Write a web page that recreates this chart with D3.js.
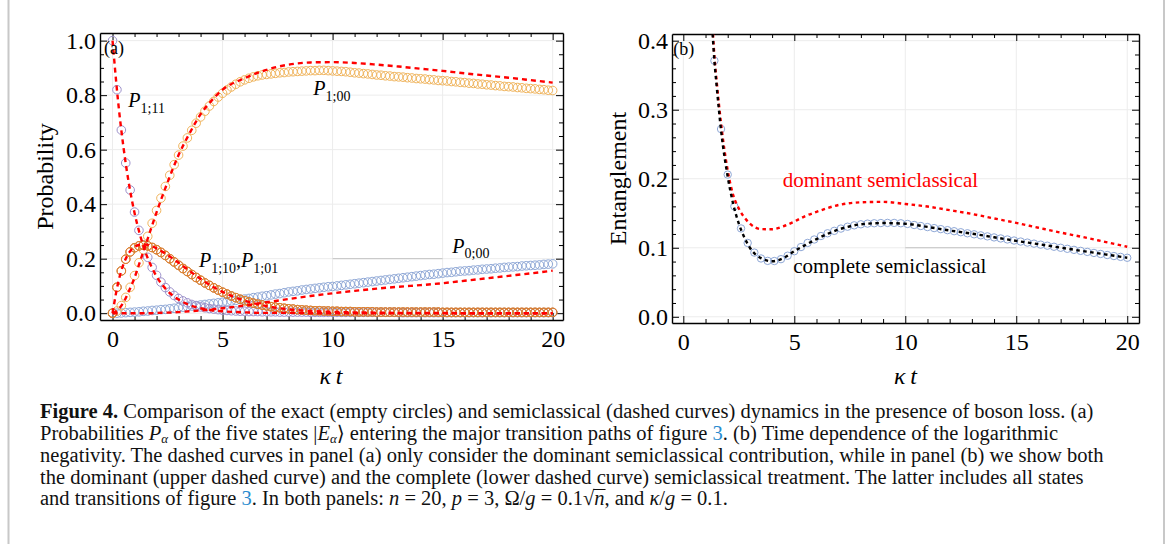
<!DOCTYPE html>
<html lang="en">
<head>
<meta charset="UTF-8">
<title>Figure 4</title>
<script src="https://d3js.org/d3.v7.min.js"></script>
<style>
  body { margin: 0; background: #fff; }
  svg text { font-family: "Liberation Serif", "DejaVu Serif", serif; }
</style>
</head>
<body>
<svg id="fig" width="1170" height="544"></svg>
<script>
// ---------- panel (a): exact probabilities, sampled every 0.2 ----------
var tA = [0,0.2,0.4,0.6,0.8,1,1.2,1.4,1.6,1.8,
    2,2.2,2.4,2.6,2.8,3,3.2,3.4,3.6,3.8,
    4,4.2,4.4,4.6,4.8,5,5.2,5.4,5.6,5.8,
    6,6.2,6.4,6.6,6.8,7,7.2,7.4,7.6,7.8,
    8,8.2,8.4,8.6,8.8,9,9.2,9.4,9.6,9.8,
    10,10.2,10.4,10.6,10.8,11,11.2,11.4,11.6,11.8,
    12,12.2,12.4,12.6,12.8,13,13.2,13.4,13.6,13.8,
    14,14.2,14.4,14.6,14.8,15,15.2,15.4,15.6,15.8,
    16,16.2,16.4,16.6,16.8,17,17.2,17.4,17.6,17.8,
    18,18.2,18.4,18.6,18.8,19,19.2,19.4,19.6,19.8,20];

var p111 = [1.000,0.820,0.672,0.551,0.452,0.371,0.304,0.250,0.205,0.168,
    0.139,0.114,0.094,0.078,0.065,0.054,0.045,0.038,0.032,0.027,
    0.023,0.020,0.017,0.015,0.013,0.011,0.010,0.009,0.008,0.007,
    0.007,0.006,0.006,0.006,0.005,0.005,0.005,0.005,0.004,0.004,
    0.004,0.004,0.004,0.004,0.004,0.003,0.003,0.003,0.003,0.003,
    0.003,0.003,0.003,0.003,0.003,0.003,0.003,0.003,0.003,0.003,
    0.003,0.003,0.003,0.003,0.003,0.002,0.002,0.002,0.002,0.002,
    0.002,0.002,0.002,0.002,0.002,0.002,0.002,0.002,0.002,0.002,
    0.002,0.002,0.002,0.002,0.002,0.002,0.002,0.002,0.002,0.002,
    0.002,0.002,0.002,0.002,0.002,0.002,0.002,0.002,0.002,0.002,0.002];

var p110 = [0.000,0.095,0.155,0.198,0.225,0.240,0.247,0.249,0.247,0.241,
    0.233,0.223,0.212,0.200,0.188,0.176,0.164,0.153,0.142,0.131,
    0.121,0.111,0.102,0.093,0.085,0.077,0.070,0.063,0.057,0.051,
    0.046,0.041,0.037,0.033,0.030,0.027,0.024,0.022,0.020,0.018,
    0.016,0.015,0.013,0.012,0.011,0.010,0.009,0.009,0.008,0.008,
    0.007,0.007,0.006,0.006,0.006,0.005,0.005,0.005,0.005,0.005,
    0.004,0.004,0.004,0.004,0.004,0.004,0.004,0.004,0.004,0.004,
    0.004,0.004,0.004,0.004,0.004,0.003,0.003,0.003,0.003,0.003,
    0.003,0.003,0.003,0.003,0.003,0.003,0.003,0.003,0.003,0.003,
    0.003,0.003,0.003,0.003,0.003,0.003,0.003,0.003,0.003,0.003,0.003];

var p101 = p110; // P_{1;01} coincides with P_{1;10}

var p100 = [0.000,0.008,0.028,0.058,0.095,0.138,0.185,0.233,0.282,0.330,
    0.377,0.422,0.465,0.506,0.545,0.580,0.613,0.643,0.671,0.697,
    0.720,0.741,0.760,0.777,0.793,0.807,0.819,0.830,0.840,0.849,
    0.856,0.862,0.867,0.871,0.874,0.876,0.878,0.880,0.882,0.883,
    0.885,0.886,0.887,0.888,0.889,0.890,0.890,0.891,0.891,0.890,
    0.889,0.888,0.887,0.886,0.884,0.882,0.881,0.879,0.878,0.876,
    0.874,0.873,0.871,0.870,0.868,0.867,0.866,0.864,0.863,0.861,
    0.860,0.859,0.857,0.856,0.854,0.853,0.852,0.850,0.849,0.847,
    0.846,0.844,0.843,0.841,0.840,0.838,0.837,0.835,0.834,0.832,
    0.831,0.830,0.828,0.827,0.825,0.824,0.823,0.821,0.820,0.818,0.817];

var p000 = [0.000,0.000,0.001,0.002,0.003,0.004,0.005,0.007,0.008,0.010,
    0.011,0.013,0.014,0.016,0.018,0.020,0.022,0.024,0.026,0.028,
    0.030,0.032,0.034,0.036,0.038,0.040,0.042,0.045,0.047,0.050,
    0.052,0.054,0.057,0.059,0.062,0.064,0.067,0.070,0.072,0.075,
    0.078,0.080,0.082,0.085,0.087,0.089,0.091,0.093,0.095,0.097,
    0.098,0.100,0.102,0.104,0.106,0.108,0.110,0.112,0.114,0.116,
    0.118,0.120,0.122,0.124,0.126,0.128,0.130,0.132,0.134,0.136,
    0.138,0.140,0.142,0.143,0.145,0.147,0.149,0.150,0.152,0.154,
    0.155,0.156,0.158,0.159,0.161,0.162,0.163,0.165,0.166,0.168,
    0.169,0.170,0.171,0.173,0.174,0.175,0.176,0.177,0.179,0.180,0.181];

// ---------- panel (a): dominant semiclassical (dashed) ----------
var tS = [0,0.25,0.5,0.75,1,1.25,1.5,1.75,2,2.5,3,3.5,4,4.5,5,6,7,8,9,10,11,12,13,14,15,16,17,18,19,20];
var s111 = [1,0.779,0.607,0.472,0.368,0.287,0.223,0.174,0.135,0.082,0.050,0.030,0.018,0.011,0.007,0.003,0.001,0.001,0,0,0,0,0,0,0,0,0,0,0,0];
var s110 = [0,0.110,0.180,0.222,0.243,0.251,0.252,0.247,0.238,0.213,0.185,0.155,0.126,0.100,0.078,0.046,0.026,0.014,0.008,0.005,0.003,0.002,0.001,0.001,0.001,0,0,0,0,0];
var s100 = [0,0.012,0.040,0.082,0.130,0.190,0.250,0.310,0.370,0.480,0.580,0.660,0.730,0.780,0.820,0.862,0.893,0.912,0.920,0.921,0.918,0.912,0.905,0.897,0.889,0.880,0.872,0.864,0.855,0.846];
var s000 = [0,0,0,0,0,0,0,0,0.001,0.002,0.004,0.007,0.010,0.014,0.018,0.028,0.040,0.052,0.063,0.073,0.082,0.090,0.097,0.103,0.110,0.119,0.128,0.137,0.146,0.156];

// ---------- panel (b): entanglement ----------
var tE = [1.4,1.7,2.0,2.3,2.6,2.9,3.2,3.5,3.8,4.1,
    4.4,4.7,5.0,5.3,5.6,5.9,6.2,6.5,6.8,7.1,
    7.4,7.7,8.0,8.3,8.6,8.9,9.2,9.5,9.8,10.1,
    10.4,10.7,11.0,11.3,11.6,11.9,12.2,12.5,12.8,13.1,
    13.4,13.7,14.0,14.3,14.6,14.9,15.2,15.5,15.8,16.1,
    16.4,16.7,17.0,17.3,17.6,17.9,18.2,18.5,18.8,19.1,
    19.4,19.7,20.0];
var eExact = [0.371,0.272,0.206,0.160,0.128,0.107,0.093,0.0845,0.081,0.0808,
    0.0835,0.0885,0.095,0.101,0.107,0.112,0.117,0.121,0.1245,0.1278,
    0.1305,0.1325,0.134,0.135,0.1355,0.1358,0.136,0.136,0.1355,0.1345,
    0.133,0.1315,0.130,0.1285,0.127,0.1255,0.124,0.1225,0.121,0.1195,
    0.118,0.1165,0.115,0.1135,0.112,0.1105,0.109,0.1075,0.106,0.1045,
    0.103,0.1015,0.100,0.0985,0.097,0.0955,0.094,0.0925,0.091,0.0895,
    0.088,0.0868,0.0855];

var tC = [1.3,1.4,1.5,1.7,2,2.25,2.5,2.75,3,3.5,4,4.5,5,5.5,6,7,8,9,10,11,12,13,14,15,16,17,18,19,20];
var eComplete = [0.42,0.371,0.335,0.27,0.203,0.163,0.135,0.115,0.100,0.085,0.0805,0.085,0.095,0.104,0.1125,0.1265,0.134,0.1358,0.1348,0.1302,0.1250,0.1205,0.1152,0.1100,0.1052,0.1002,0.0952,0.0905,0.0855];
var eDominant = [0.43,0.378,0.342,0.28,0.212,0.176,0.157,0.144,0.135,0.127,0.1268,0.131,0.138,0.146,0.152,0.162,0.1658,0.1665,0.1635,0.1597,0.1545,0.149,0.1425,0.136,0.129,0.122,0.1155,0.1085,0.1015];

// ticks
var xMajor = [0,5,10,15,20];
var xMinor = [1,2,3,4,6,7,8,9,11,12,13,14,16,17,18,19];
var yMajorA = [0,0.2,0.4,0.6,0.8,1.0];
var yMinorA = [0.05,0.1,0.15,0.25,0.3,0.35,0.45,0.5,0.55,0.65,0.7,0.75,0.85,0.9,0.95];
var yMajorB = [0,0.1,0.2,0.3,0.4];
var yMinorB = [0.02,0.04,0.06,0.08,0.12,0.14,0.16,0.18,0.22,0.24,0.26,0.28,0.32,0.34,0.36,0.38];

var svg = d3.select("#fig");
svg.append("rect").attr("width", 1170).attr("height", 544).attr("fill", "#fff");

// page side borders
svg.append("line").attr("x1", 8.5).attr("x2", 8.5).attr("y1", 0).attr("y2", 544)
    .attr("stroke", "#c8c8c8").attr("stroke-width", 2);
svg.append("line").attr("x1", 1164).attr("x2", 1164).attr("y1", 0).attr("y2", 544)
    .attr("stroke", "#c8c8c8").attr("stroke-width", 2);

var xA = d3.scaleLinear().domain([-0.57, 20.47]).range([100, 563]);
var yA = d3.scaleLinear().domain([-0.025, 1.028]).range([320, 33]);
var xB = d3.scaleLinear().domain([-0.51, 20.53]).range([672, 1139]);
var yB = d3.scaleLinear().domain([-0.009, 0.4097]).range([323, 34]);

function styleAxis(g) {
    g.attr("font-family", "Liberation Serif, serif").attr("font-size", 24);
    g.selectAll("text").attr("fill", "#000");
    g.selectAll("line").attr("stroke", "#000");
    g.select(".domain").attr("stroke", "#000").attr("stroke-width", 1.4);
}

function frame(id, x, y, yMajor, yMinor, yFmt, mark) {
    var g = svg.append("g").attr("id", id);
    var x0 = x.range()[0], x1 = x.range()[1], yb = y.range()[0], yt = y.range()[1];

    // grid
    g.append("g").selectAll("line").data(xMajor).join("line")
        .attr("x1", d => x(d)).attr("x2", d => x(d)).attr("y1", yb).attr("y2", yt)
        .attr("stroke", "#ececec");
    g.append("g").selectAll("line").data(yMajor).join("line")
        .attr("x1", x0).attr("x2", x1).attr("y1", d => y(d)).attr("y2", d => y(d))
        .attr("stroke", "#ececec");
    g.append("line").attr("x1", x(mark[0])).attr("x2", x(mark[1]))
        .attr("y1", y(mark[2])).attr("y2", y(mark[2])).attr("stroke", "#c2c2c2");

    // bottom
    g.append("g").attr("transform", "translate(0," + yb + ")")
        .call(d3.axisBottom(x).tickValues(xMajor).tickSize(-7).tickSizeOuter(0)
            .tickPadding(10).tickFormat(d3.format("d"))).call(styleAxis);
    g.append("g").attr("transform", "translate(0," + yb + ")")
        .call(d3.axisBottom(x).tickValues(xMinor).tickSize(-4).tickFormat(""))
        .call(styleAxis).select(".domain").remove();
    // top
    g.append("g").attr("transform", "translate(0," + yt + ")")
        .call(d3.axisTop(x).tickValues(xMajor).tickSize(-7).tickSizeOuter(0).tickFormat(""))
        .call(styleAxis);
    g.append("g").attr("transform", "translate(0," + yt + ")")
        .call(d3.axisTop(x).tickValues(xMinor).tickSize(-4).tickFormat(""))
        .call(styleAxis).select(".domain").remove();
    // left
    g.append("g").attr("transform", "translate(" + x0 + ",0)")
        .call(d3.axisLeft(y).tickValues(yMajor).tickSize(-7).tickSizeOuter(0)
            .tickPadding(4).tickFormat(yFmt)).call(styleAxis);
    g.append("g").attr("transform", "translate(" + x0 + ",0)")
        .call(d3.axisLeft(y).tickValues(yMinor).tickSize(-4).tickFormat(""))
        .call(styleAxis).select(".domain").remove();
    // right
    g.append("g").attr("transform", "translate(" + x1 + ",0)")
        .call(d3.axisRight(y).tickValues(yMajor).tickSize(-7).tickSizeOuter(0).tickFormat(""))
        .call(styleAxis);
    g.append("g").attr("transform", "translate(" + x1 + ",0)")
        .call(d3.axisRight(y).tickValues(yMinor).tickSize(-4).tickFormat(""))
        .call(styleAxis).select(".domain").remove();

    svg.append("clipPath").attr("id", id + "-clip").append("rect")
        .attr("x", x0).attr("y", yt).attr("width", x1 - x0).attr("height", yb - yt);
    return svg.append("g").attr("clip-path", "url(#" + id + "-clip)");
}

function circles(g, x, y, ts, vs, color, r) {
    g.append("g").selectAll("circle").data(ts.map((t, i) => [t, vs[i]])).join("circle")
        .attr("cx", d => x(d[0])).attr("cy", d => y(d[1])).attr("r", r)
        .attr("fill", "none").attr("stroke", color).attr("stroke-width", 1);
}

function dashed(g, x, y, ts, vs, color, dash) {
    var line = d3.line().x(d => x(d[0])).y(d => y(d[1])).curve(d3.curveMonotoneX);
    g.append("path").datum(ts.map((t, i) => [t, vs[i]])).attr("d", line)
        .attr("fill", "none").attr("stroke", color).attr("stroke-width", 2.4)
        .attr("stroke-dasharray", dash);
}

// ---------- panel (a) ----------
var fmt1 = d3.format(".1f");
var gA = frame("pa", xA, yA, yMajorA, yMinorA, fmt1, [10, 15, 0.2]);
circles(gA, xA, yA, tA, p000, "#8ea7d6", 4.3);
circles(gA, xA, yA, tA, p100, "#f0b45c", 4.3);
circles(gA, xA, yA, tA, p111, "#9d92cb", 4.3);
circles(gA, xA, yA, tA, p101, "#c4682c", 4.3);
circles(gA, xA, yA, tA, p110, "#e0842f", 4.3);
[s000, s100, s110, s111].forEach(function (s) { dashed(gA, xA, yA, tS, s, "#ff0000", "5,4"); });

// ---------- panel (b) ----------
var gB = frame("pb", xB, yB, yMajorB, yMinorB, fmt1, [10, 15, 0.1]);
circles(gB, xB, yB, tE, eExact, "#8ea7d6", 3.7);
dashed(gB, xB, yB, tC, eDominant, "#ff0000", "3.5,3.5");
dashed(gB, xB, yB, tC, eComplete, "#000000", "3.5,3.5");

// ---------- labels ----------
function plabel(x, y, parts) {
    var t = svg.append("text").attr("x", x).attr("y", y).attr("fill", "#000");
    parts.forEach(function (p, i) {
        if (p[0] === ",") {
            t.append("tspan").attr("dy", -5.5).attr("font-size", 20).text(",");
            return;
        }
        t.append("tspan").attr("font-style", "italic").attr("font-size", 20)
            .attr("dy", i > 0 && parts[i - 1][0] !== "," ? -5.5 : 0).text(p[0]);
        t.append("tspan").attr("font-size", 14).attr("dy", 5.5).text(p[1]);
    });
}
plabel(128.3, 107.3, [["P", "1;11"]]);
plabel(313.3, 95, [["P", "1;00"]]);
plabel(199, 267.3, [["P", "1;10"], [","], ["P", "1;01"]]);
plabel(452.3, 252.7, [["P", "0;00"]]);

svg.append("text").attr("x", 104).attr("y", 54).attr("font-size", 18).text("(a)");
svg.append("text").attr("x", 673.3).attr("y", 55).attr("font-size", 18).text("(b)");

svg.append("text").attr("x", 782.7).attr("y", 186.7).attr("font-size", 21)
    .attr("fill", "#ff0000").text("dominant semiclassical");
svg.append("text").attr("x", 793.3).attr("y", 272.7).attr("font-size", 21)
    .attr("fill", "#000").text("complete semiclassical");

svg.append("text").attr("transform", "translate(53,176.5) rotate(-90)")
    .attr("text-anchor", "middle").attr("font-size", 24).text("Probability");
svg.append("text").attr("transform", "translate(626,178.5) rotate(-90)")
    .attr("text-anchor", "middle").attr("font-size", 24).text("Entanglement");
[331, 905.5].forEach(function (cx) {
    svg.append("text").attr("x", cx).attr("y", 384).attr("text-anchor", "middle")
        .attr("font-size", 24).attr("font-style", "italic").text("\u03ba\u2009t");
});

// ---------- caption ----------
var captionLines = [
    [["Figure 4.", "b"], [" Comparison of the exact (empty circles) and semiclassical (dashed curves) dynamics in the presence of boson loss. (a)"]],
    [["Probabilities "], ["P", "i"], ["\u03b1", "sub"], [" of the five states |"], ["E", "i"], ["\u03b1", "sub"], ["\u27e9 entering the major transition paths of figure "], ["3", "link"], [". (b) Time dependence of the logarithmic"]],
    [["negativity. The dashed curves in panel (a) only consider the dominant semiclassical contribution, while in panel (b) we show both"]],
    [["the dominant (upper dashed curve) and the complete (lower dashed curve) semiclassical treatment. The latter includes all states"]],
    [["and transitions of figure "], ["3", "link"], [". In both panels: "], ["n", "i"], [" = 20, "], ["p", "i"], [" = 3, \u03a9/"], ["g", "i"], [" = 0.1\u221a"], ["n", "over"], [", and "], ["\u03ba", "i"], ["/"], ["g", "i"], [" = 0.1."]]
];
var capY = [418, 440, 462, 484, 505];
captionLines.forEach(function (line, li) {
    var t = svg.append("text").attr("x", 40).attr("y", capY[li]).attr("font-size", 20.5).attr("fill", "#111");
    var shifted = false, overs = [];
    line.forEach(function (seg) {
        var s = t.append("tspan").text(seg[0]);
        if (shifted) { s.attr("dy", -3); shifted = false; }
        if (seg[1] === "b") s.attr("font-weight", "bold");
        if (seg[1] === "i" || seg[1] === "over") s.attr("font-style", "italic");
        if (seg[1] === "over") overs.push(s);
        if (seg[1] === "link") s.attr("fill", "#2a8ccf");
        if (seg[1] === "sub") { s.attr("font-style", "italic").attr("font-size", 13).attr("dy", 3); shifted = true; }
    });
    // radical bar over n
    overs.forEach(function (s) {
        var n = s.node();
        var a = n.getStartPositionOfChar(0), b = n.getEndPositionOfChar(0);
        svg.append("line").attr("x1", a.x - 1).attr("x2", b.x + 1)
            .attr("y1", capY[li] - 15.5).attr("y2", capY[li] - 15.5)
            .attr("stroke", "#111").attr("stroke-width", 1);
    });
});
</script>
</body>
</html>
